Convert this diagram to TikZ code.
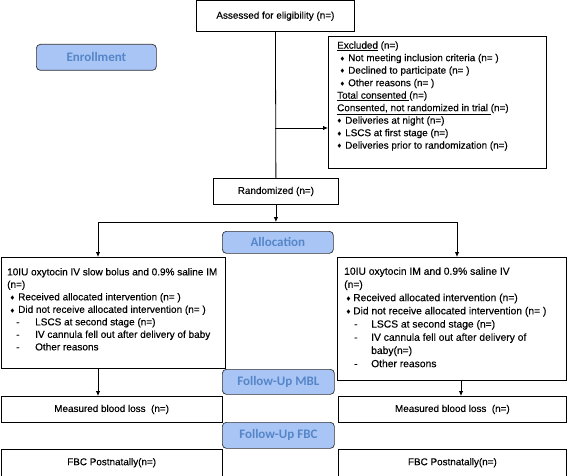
\documentclass[tikz,border=0pt]{standalone}
\usepackage{fontspec}
\usepackage{amssymb}
\setmainfont{Liberation Sans}[FakeBold=0.25]
\newfontfamily\lblfont{Carlito}
\usetikzlibrary{arrows.meta}
\definecolor{lblfill}{RGB}{168,197,245}
\definecolor{lbltext}{RGB}{86,134,200}
\definecolor{lbldraw}{RGB}{50,50,50}
\newcommand{\mybul}{\raisebox{0.15ex}{$\scriptscriptstyle\blacklozenge$}}
\newcommand{\bulA}{\hspace*{3pt}\makebox[8pt][l]{\mybul}}
\newcommand{\bulB}{\makebox[8pt][l]{\mybul}}
\newcommand{\bulC}{\hspace*{2pt}\makebox[7pt][l]{\mybul}}
\newcommand{\dashA}{\hspace*{9pt}\makebox[19pt][l]{-}}
\newcommand{\dashC}{\hspace*{10pt}\makebox[17pt][l]{-}}
\newcommand{\dashD}{\hspace*{27pt}}
\tikzset{
  box/.style={draw=black, line width=0.8pt, inner sep=0pt, anchor=north west,
    font=\fontsize{9.9}{12.6}\selectfont},
  txt/.style={align=left, inner sep=0pt, anchor=north west},
  lbl/.style={draw=lbldraw, fill=lblfill, rounded corners=4pt, text=lbltext,
    font=\lblfont\bfseries\fontsize{13}{13}\selectfont, inner sep=0pt,
    anchor=north west, line width=0.7pt},
  conn/.style={line width=0.8pt},
  arr/.style={line width=0.8pt, -{Latex[length=5pt,width=4.5pt]}}
}
\begin{document}
\begin{tikzpicture}[x=1pt,y=-1pt]
\useasboundingbox (0,0) rectangle (568,476);
% boxes
\node[box, minimum width=158pt, minimum height=30.5pt] (assess) at (196,0.5) {Assessed for eligibility (n=)};
\node[box, minimum width=218pt, minimum height=132pt] (excl) at (328,36) {};
\node[box, minimum width=125pt, minimum height=26pt] (rand) at (213,178) {Randomized (n=)};
\node[box, minimum width=224.5pt, minimum height=111pt] (left) at (0.5,257) {};
\node[box, minimum width=229pt, minimum height=123pt] (right) at (337,257) {};
\node[box, minimum width=221.5pt, minimum height=26pt] (mbll) at (0.5,396) {Measured blood loss\ \ (n=)};
\node[box, minimum width=228pt, minimum height=26pt] (mblr) at (338,396) {Measured blood loss\ \ (n=)};
\node[box, minimum width=221.5pt, minimum height=26.5pt] (fbcl) at (0.5,449) {FBC Postnatally(n=)};
\node[box, minimum width=228pt, minimum height=26.5pt] (fbcr) at (338,449) {FBC Postnatally(n=)};
% labels
\node[lbl, minimum width=120pt, minimum height=26pt] (enroll) at (36,44) {Enrollment};
\node[lbl, minimum width=111pt, minimum height=22pt] (alloc) at (222,231) {Allocation};
\node[lbl, minimum width=112pt, minimum height=25pt] (fmbl) at (222,369) {Follow-Up MBL};
\node[lbl, minimum width=112pt, minimum height=26pt] (ffbc) at (222,422) {Follow-Up FBC};
% texts
\node[txt, font=\fontsize{9.9}{12.5}\selectfont] (excl-t) at (337,41.3) {\underline{Excluded} (n=)\\
\bulA Not meeting inclusion criteria (n= )\\
\bulA Declined to participate (n= )\\
\bulA Other reasons (n= )\\
\underline{Total consented\ }(n=)\\
\underline{Consented, not randomized in trial\ }(n=)\\
\bulB Deliveries at night (n=)\\
\bulB LSCS at first stage (n=)\\
\bulB Deliveries prior to randomization (n=)};
\node[txt, font=\fontsize{10}{12.5}\selectfont] (left-t) at (7,267.9) {10IU oxytocin IV slow bolus and 0.9\% saline IM\\
(n=)\\
\bulA Received allocated intervention (n= )\\
\bulA Did not receive allocated intervention (n= )\\
\dashA LSCS at second stage (n=)\\
\dashA IV cannula fell out after delivery of baby\\
\dashA Other reasons};
\node[txt, font=\fontsize{10.3}{13.2}\selectfont] (right-t) at (344,267.1) {10IU oxytocin IM and 0.9\% saline IV\\
(n=)\\
\bulC Received allocated intervention (n=)\\
\bulC Did not receive allocated intervention (n= )\\
\dashC LSCS at second stage (n=)\\
\dashC IV cannula fell out after delivery of\\
\dashD baby(n=)\\
\dashC Other reasons};
% connectors
\coordinate (bry) at (0,128);
\coordinate (br) at (assess.south |- bry);
\coordinate (hl) at (98,222);
\coordinate (hr) at (457,222);
\coordinate (ra) at (461,0);
\draw[conn] (assess.south) -- (rand.north);
\draw[arr] (br) -- (br -| excl.west);
\draw[arr] (rand.south) -- (rand.south |- hl);
\draw[conn] (hl) -- (hr);
\draw[arr] (hl) -- (hl |- left.north);
\draw[arr] (hr) -- (hr |- right.north);
\draw[arr] (hl |- left.south) -- (hl |- mbll.north);
\draw[arr] (ra |- right.south) -- (ra |- mblr.north);
\end{tikzpicture}
\end{document}
